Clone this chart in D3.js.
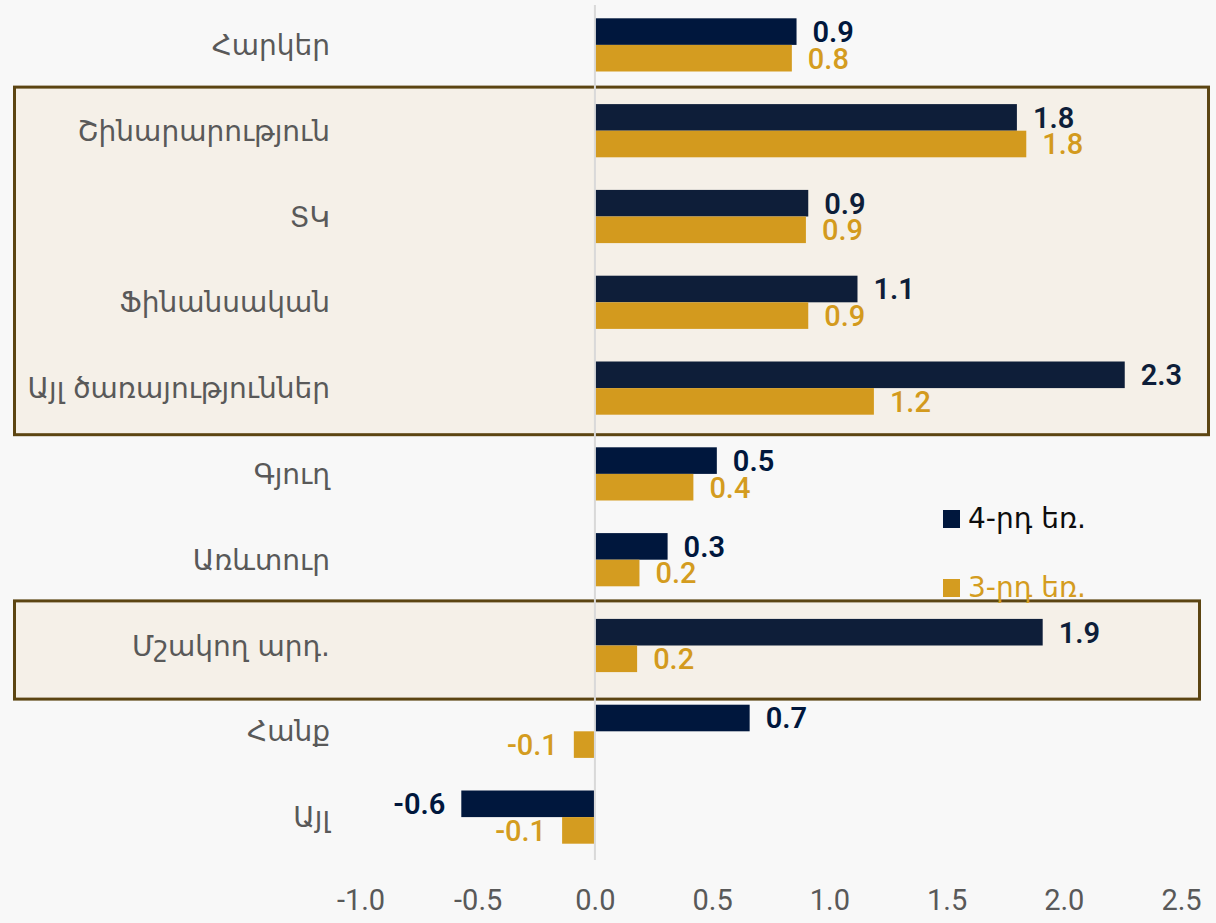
<!DOCTYPE html>
<html>
<head>
<meta charset="utf-8">
<script src="https://cdn.jsdelivr.net/npm/d3@7"></script>
<style>
  body { margin: 0; background: #f8f8f8; }
  svg { display: block; }
</style>
</head>
<body>
<div id="chart"></div>
<script>
// categories, top to bottom
const categories = ['Հարկեր', 'Շինարարություն', 'ՏԿ', 'Ֆինանսական', 'Այլ ծառայություններ',
                    'Գյուղ', 'Առևտուր', 'Մշակող արդ.', 'Հանք', 'Այլ'];
const q4Values = [0.86, 1.80, 0.91, 1.12, 2.26, 0.52, 0.31, 1.91, 0.66, -0.57];
const q3Values = [0.84, 1.84, 0.90, 0.91, 1.19, 0.42, 0.19, 0.18, -0.09, -0.14];
const seriesNames = ['4-րդ եռ.', '3-րդ եռ.'];
const xTicks = [-1.0, -0.5, 0.0, 0.5, 1.0, 1.5, 2.0, 2.5];
// highlighted groups [first, last]
const boxGroups = [['Շինարարություն', 'Այլ ծառայություններ'], ['Մշակող արդ.', 'Մշակող արդ.']];

const W = 1216, H = 923;
const navy = '#00173d', gold = '#d49c20', grey = '#595959';
const armFont = '"DejaVu Sans", "Noto Sans", sans-serif';

const svg = d3.select('#chart').append('svg')
  .attr('width', W)
  .attr('height', H);

svg.append('rect').attr('width', W).attr('height', H).attr('fill', '#f8f8f8');

const x = d3.scaleLinear().domain([-1, 2.5]).range([360.5, 1181]);
const y = d3.scaleBand().domain(categories).range([2, 860]).paddingInner(0.38).paddingOuter(0.19);
const bh = y.bandwidth() / 2;

const rows = categories.map((c, i) => ({cat: c, q4: q4Values[i], q3: q3Values[i]}));

// hyphen minus like the original
const fmt = v => d3.format('.1f')(v).replace('\u2212', '-');

// bars
const barG = svg.append('g');
barG.selectAll('rect.q4').data(rows).join('rect')
  .attr('class', 'q4')
  .attr('x', d => x(Math.min(0, d.q4)))
  .attr('width', d => Math.abs(x(d.q4) - x(0)))
  .attr('y', d => y(d.cat))
  .attr('height', bh)
  .attr('fill', navy);
barG.selectAll('rect.q3').data(rows).join('rect')
  .attr('class', 'q3')
  .attr('x', d => x(Math.min(0, d.q3)))
  .attr('width', d => Math.abs(x(d.q3) - x(0)))
  .attr('y', d => y(d.cat) + bh)
  .attr('height', bh)
  .attr('fill', gold);

// value labels
function labelX(v) { return v >= 0 ? x(v) + 16 : x(v) - 16; }
barG.selectAll('text.q4').data(rows).join('text')
  .attr('class', 'q4')
  .attr('x', d => labelX(d.q4))
  .attr('y', d => y(d.cat) + bh / 2)
  .attr('dy', '0.36em')
  .attr('text-anchor', d => d.q4 >= 0 ? 'start' : 'end')
  .style('font', '600 29px Roboto')
  .attr('fill', navy)
  .text(d => fmt(d.q4));
barG.selectAll('text.q3').data(rows).join('text')
  .attr('class', 'q3')
  .attr('x', d => labelX(d.q3))
  .attr('y', d => y(d.cat) + bh * 1.5)
  .attr('dy', '0.36em')
  .attr('text-anchor', d => d.q3 >= 0 ? 'start' : 'end')
  .style('font', '500 29px Roboto')
  .attr('fill', gold)
  .text(d => fmt(d.q3));

// highlight boxes (translucent overlay)
const boxPad = [[17, 20], [18, 27]];
const boxRight = [1208.5, 1199.5];
boxGroups.forEach((g, i) => {
  let top = y(g[0]) - boxPad[i][0];
  let bottom = y(g[1]) + y.bandwidth() + boxPad[i][1];
  svg.append('rect')
    .attr('x', 14.5)
    .attr('y', top)
    .attr('width', boxRight[i] - 14.5)
    .attr('height', bottom - top)
    .attr('fill', 'rgba(205,133,20,0.065)')
    .attr('stroke', '#5c4512')
    .attr('stroke-width', 3);
});

// zero line
svg.append('line')
  .attr('x1', x(0)).attr('x2', x(0))
  .attr('y1', 5).attr('y2', 860)
  .attr('stroke', '#d9d9d9')
  .attr('stroke-width', 2);

// category labels
svg.append('g').selectAll('text').data(categories).join('text')
  .attr('x', 330)
  .attr('y', d => y(d) + y.bandwidth() / 2)
  .attr('dy', '0.36em')
  .attr('text-anchor', 'end')
  .style('font', '400 28px ' + armFont)
  .attr('fill', grey)
  .text(d => d);

// x axis labels
const xAxis = d3.axisBottom(x).tickValues(xTicks).tickFormat(fmt).tickSize(0).tickPadding(0);
const axG = svg.append('g').attr('transform', 'translate(0,889)').call(xAxis);
axG.select('.domain').remove();
axG.selectAll('text')
  .style('font', '400 29px Roboto')
  .attr('fill', grey);

// legend
const legend = svg.append('g').attr('transform', 'translate(943,510)');
[navy, gold].forEach((c, i) => {
  legend.append('rect')
    .attr('x', 0).attr('y', i * 69)
    .attr('width', 17).attr('height', 18)
    .attr('fill', c);
  legend.append('text')
    .attr('x', 25).attr('y', i * 69 + 18)
    .style('font', '400 28px ' + armFont)
    .attr('fill', i === 0 ? '#0d0d0d' : gold)
    .text(seriesNames[i]);
});
</script>
</body>
</html>
